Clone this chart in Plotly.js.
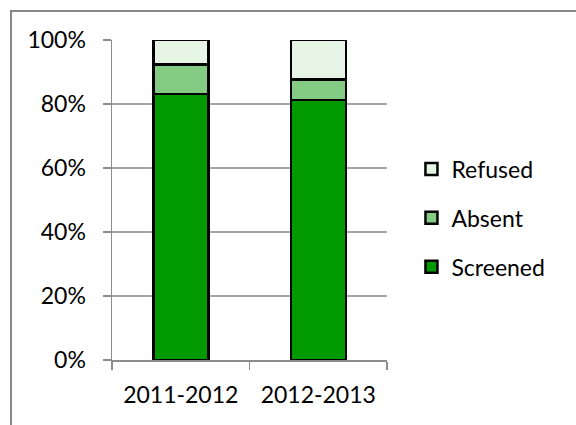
<!DOCTYPE html>
<html>
<head>
<meta charset="utf-8">
<script src="https://cdn.plot.ly/plotly-3.0.1.min.js"></script>
<style>
html,body{margin:0;padding:0;background:#fff;}
#wrap{position:relative;width:576px;height:425px;overflow:hidden;}
#chart{width:576px;height:425px;}
#frame{position:absolute;left:10px;top:10px;right:-10px;bottom:-10px;border-top:2px solid #878787;border-left:2px solid #878787;pointer-events:none;z-index:10;}
</style>
</head>
<body>
<div id="wrap">
<div id="chart"></div>
<div id="frame"></div>
</div>
<script>
// Data (share of pupils, %)
const categories = ["2011-2012", "2012-2013"];
const screened = [83.1, 81.2];
const absent   = [9.3, 6.5];
const refused  = [7.6, 12.3];
const yTickVals = [0, 20, 40, 60, 80, 100];
const yTickText = ["0%", "20%", "40%", "60%", "80%", "100%"];

const FONT = "Lato, 'Open Sans', sans-serif";
const GRID = "#a6a6a6";
const AXIS = "#8c8c8c";

function bar(name, vals, color, rank) {
  return {
    type: "bar", name: name, x: categories, y: vals, legendgroup: name, legendrank: rank,
    marker: { color: color, line: { color: "#000", width: 2.5 } },
    hoverinfo: "skip"
  };
}

const traces = [
  bar("Screened", screened, "#009900", 3),
  bar("Absent", absent, "#84cc84", 2),
  bar("Refused", refused, "#e6f4e6", 1)
];

const L = 112, R = 387.5, T = 40, B = 360, W = 576, H = 425;
const px = v => (v - L) / (R - L);
const py = v => (B - v) / (B - T);

const layout = {
  width: W, height: H,
  margin: { l: L, r: W - R, t: T, b: H - B, pad: 0 },
  paper_bgcolor: "rgba(0,0,0,0)", plot_bgcolor: "#fff",
  barmode: "stack", bargap: 0.6,
  font: { family: FONT, size: 23, color: "#000" },
  showlegend: true,
  legend: {
    x: px(412), xanchor: "left", y: py(218), yanchor: "middle",
    traceorder: "grouped", tracegroupgap: 16,
    font: { family: FONT, size: 23, color: "#000" },
    bgcolor: "rgba(0,0,0,0)", itemwidth: 30
  },
  xaxis: {
    type: "category", tickson: "boundaries",
    showline: true, linecolor: AXIS, linewidth: 1.5,
    ticks: "outside", ticklen: 8, tickcolor: AXIS, tickwidth: 1.5,
    showgrid: false, zeroline: false, fixedrange: true,
    ticklabelstandoff: 14,
    tickfont: { family: FONT, size: 23, color: "#000" }
  },
  yaxis: {
    range: [0, 100], tickvals: yTickVals, ticktext: yTickText,
    showline: true, linecolor: AXIS, linewidth: 1.5,
    ticks: "outside", ticklen: 8, tickcolor: AXIS, tickwidth: 1.5,
    showgrid: true, gridcolor: GRID, gridwidth: 1.5,
    zeroline: false, fixedrange: true,
    ticklabelstandoff: 12,
    tickfont: { family: FONT, size: 23, color: "#000" }
  }
};

Plotly.newPlot("chart", traces, layout, { displayModeBar: false, staticPlot: true });
</script>
</body>
</html>
